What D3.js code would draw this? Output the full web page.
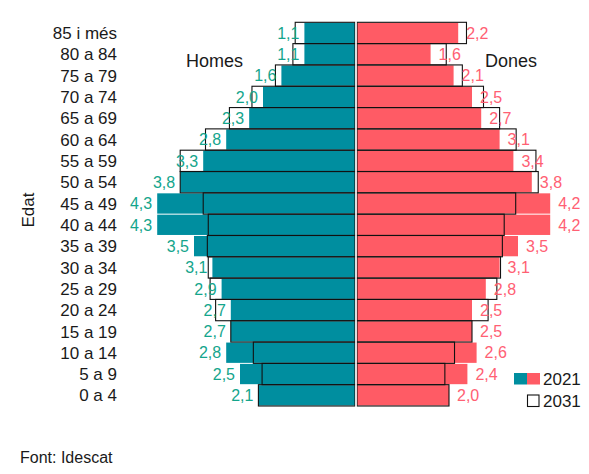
<!DOCTYPE html>
<html>
<head>
<meta charset="utf-8">
<script src="https://cdn.jsdelivr.net/npm/d3@7"></script>
<style>
  body { margin: 0; background: #fff; }
  svg { display: block; }
  text { font-family: "Liberation Sans", Arial, Helvetica, sans-serif; }
</style>
</head>
<body>
<div id="chart"></div>
<script>
const ages = [
  "85 i més", "80 a 84", "75 a 79", "70 a 74", "65 a 69", "60 a 64",
  "55 a 59", "50 a 54", "45 a 49", "40 a 44", "35 a 39", "30 a 34",
  "25 a 29", "20 a 24", "15 a 19", "10 a 14", "5 a 9", "0 a 4",
];
const homes2021 = [1.1, 1.1, 1.6, 2.0, 2.3, 2.8, 3.3, 3.8, 4.3, 4.3, 3.5, 3.1, 2.9, 2.7, 2.7, 2.8, 2.5, 2.1];
const homes2031 = [1.3, 1.35, 1.73, 2.24, 2.73, 3.25, 3.8, 3.8, 3.3, 3.19, 3.21, 3.19, 3.15, 3.03, 2.7, 2.21, 2.02, 2.1];
const dones2021 = [2.2, 1.6, 2.1, 2.5, 2.7, 3.1, 3.4, 3.8, 4.2, 4.2, 3.5, 3.1, 2.8, 2.5, 2.5, 2.6, 2.4, 2.0];
const dones2031 = [2.38, 1.94, 2.29, 2.75, 3.1, 3.46, 3.89, 3.94, 3.45, 3.2, 3.16, 3.12, 3.04, 2.85, 2.5, 2.12, 1.91, 2.0];
const legendYears = ["2021", "2031"];

const COLORS = {
  homes: "#008e9f",
  dones: "#ff5b65",
  homesLabel: "#14a58c",
  donesLabel: "#ff6073",
  outline: "#111",
  text: "#1a1a1a",
};

const width = 589;
const height = 474;
const center = 356;

const svg = d3
  .select("#chart")
  .append("svg")
  .attr("width", width)
  .attr("height", height);

const y = d3.scaleBand().domain(ages).range([22.3, 406]);
const xHomes = d3.scaleLinear().domain([0, 5]).range([center - 1, center - 1 - 230]);
const xDones = d3.scaleLinear().domain([0, 5]).range([center + 1, center + 1 + 230]);

const rows = ages.map((age, i) => ({
  age,
  h21: homes2021[i],
  h31: homes2031[i],
  d21: dones2021[i],
  d31: dones2031[i],
}));

const fmt = (v) => d3.format(".1f")(v).replace(".", ",");

// 2021 bars
svg
  .selectAll("rect.homes")
  .data(rows)
  .join("rect")
  .attr("class", "homes")
  .attr("x", (d) => xHomes(d.h21))
  .attr("y", (d) => y(d.age) + 0.5)
  .attr("width", (d) => xHomes(0) - xHomes(d.h21))
  .attr("height", y.bandwidth() - 1)
  .attr("fill", COLORS.homes);

svg
  .selectAll("rect.dones")
  .data(rows)
  .join("rect")
  .attr("class", "dones")
  .attr("x", xDones(0))
  .attr("y", (d) => y(d.age) + 0.5)
  .attr("width", (d) => xDones(d.d21) - xDones(0))
  .attr("height", y.bandwidth() - 1)
  .attr("fill", COLORS.dones);

// 2031 outlines
svg
  .selectAll("rect.homes31")
  .data(rows)
  .join("rect")
  .attr("class", "homes31")
  .attr("x", (d) => xHomes(d.h31))
  .attr("y", (d) => y(d.age))
  .attr("width", (d) => xHomes(0) - xHomes(d.h31))
  .attr("height", y.bandwidth())
  .attr("fill", "none")
  .attr("stroke", COLORS.outline)
  .attr("stroke-width", 1.1);

svg
  .selectAll("rect.dones31")
  .data(rows)
  .join("rect")
  .attr("class", "dones31")
  .attr("x", xDones(0))
  .attr("y", (d) => y(d.age))
  .attr("width", (d) => xDones(d.d31) - xDones(0))
  .attr("height", y.bandwidth())
  .attr("fill", "none")
  .attr("stroke", COLORS.outline)
  .attr("stroke-width", 1.1);

// white divider at the center
svg
  .append("line")
  .attr("x1", center)
  .attr("x2", center)
  .attr("y1", y.range()[0] - 1)
  .attr("y2", y.range()[1] + 1)
  .attr("stroke", "#fff")
  .attr("stroke-width", 1.5);

// value labels (2021)
svg
  .selectAll("text.hval")
  .data(rows)
  .join("text")
  .attr("class", "hval")
  .attr("x", (d) => xHomes(d.h21) - 5)
  .attr("y", (d) => y(d.age) + y.bandwidth() / 2)
  .attr("dy", "0.36em")
  .attr("text-anchor", "end")
  .style("font-size", "16px")
  .style("fill", COLORS.homesLabel)
  .text((d) => fmt(d.h21));

svg
  .selectAll("text.dval")
  .data(rows)
  .join("text")
  .attr("class", "dval")
  .attr("x", (d) => xDones(d.d21) + 8)
  .attr("y", (d) => y(d.age) + y.bandwidth() / 2)
  .attr("dy", "0.36em")
  .attr("text-anchor", "start")
  .style("font-size", "16px")
  .style("fill", COLORS.donesLabel)
  .text((d) => fmt(d.d21));

// age axis labels
svg
  .selectAll("text.age")
  .data(ages)
  .join("text")
  .attr("class", "age")
  .attr("x", 117)
  .attr("y", (d) => y(d) + y.bandwidth() / 2)
  .attr("dy", "0.36em")
  .attr("text-anchor", "end")
  .style("font-size", "17px")
  .style("fill", COLORS.text)
  .text((d) => d);

svg
  .append("text")
  .attr("transform", "translate(34,210) rotate(-90)")
  .attr("text-anchor", "middle")
  .style("font-size", "17px")
  .style("fill", COLORS.text)
  .text("Edat");

svg
  .append("text")
  .attr("x", 186)
  .attr("y", 67)
  .style("font-size", "18px")
  .style("fill", COLORS.text)
  .text("Homes");

svg
  .append("text")
  .attr("x", 485)
  .attr("y", 67)
  .style("font-size", "18px")
  .style("fill", COLORS.text)
  .text("Dones");

// legend
const legend = svg.append("g").attr("transform", "translate(514,373)");
legend
  .append("rect")
  .attr("width", 13)
  .attr("height", 11.5)
  .attr("fill", COLORS.homes);
legend
  .append("rect")
  .attr("x", 13)
  .attr("width", 13)
  .attr("height", 11.5)
  .attr("fill", COLORS.dones);
legend
  .append("rect")
  .attr("x", 13.5)
  .attr("y", 22)
  .attr("width", 11.5)
  .attr("height", 11.5)
  .attr("fill", "#fff")
  .attr("stroke", COLORS.outline)
  .attr("stroke-width", 1.1);
legend
  .selectAll("text")
  .data(legendYears)
  .join("text")
  .attr("x", 29)
  .attr("y", (d, i) => 11.8 + i * 22)
  .style("font-size", "17px")
  .style("fill", COLORS.text)
  .text((d) => d);

svg
  .append("text")
  .attr("x", 20)
  .attr("y", 462.5)
  .style("font-size", "16px")
  .style("fill", COLORS.text)
  .text("Font: Idescat");
</script>
</body>
</html>
